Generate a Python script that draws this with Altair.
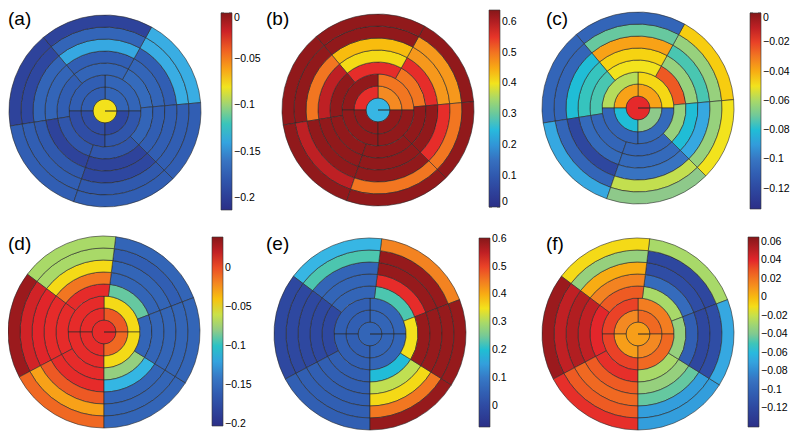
import math
import pandas as pd
import altair as alt

# ---------------- data ----------------
PANELS = ["(a)", "(b)", "(c)", "(d)", "(e)", "(f)"]

# colour-bar limits and tick labels
CBAR_MIN = [-0.213, 0.0, -0.134, -0.202, -0.077, -0.140]
CBAR_MAX = [0.0, 0.638, 0.0, 0.039, 0.603, 0.065]
TICKS_A = [0, -0.05, -0.1, -0.15, -0.2]
TICKS_B = [0, 0.1, 0.2, 0.3, 0.4, 0.5, 0.6]
TICKS_C = [0, -0.02, -0.04, -0.06, -0.08, -0.1, -0.12]
TICKS_D = [0, -0.05, -0.1, -0.15, -0.2]
TICKS_E = [0, 0.1, 0.2, 0.3, 0.4, 0.5, 0.6]
TICKS_F = [0.06, 0.04, 0.02, 0, -0.02, -0.04, -0.06, -0.08, -0.1, -0.12]

# apex value, apical rings (inner, outer) x quadrants (UR, UL, LL, LR),
# outer rings (inner -> outer) x six sectors (counter-clockwise from the right)
A_APEX = -0.079
A_APICAL = [[-0.170, -0.175, -0.187, -0.192],
            [-0.170, -0.175, -0.187, -0.181]]
A_OUTER = [[-0.166, -0.170, -0.175, -0.181, -0.181, -0.170],
           [-0.170, -0.175, -0.170, -0.196, -0.196, -0.175],
           [-0.175, -0.138, -0.170, -0.179, -0.192, -0.175],
           [-0.136, -0.170, -0.192, -0.175, -0.179, -0.175],
           [-0.136, -0.196, -0.196, -0.175, -0.175, -0.175]]

B_APEX = 0.242
B_APICAL = [[0.479, 0.555, 0.628, 0.628],
            [0.498, 0.628, 0.628, 0.628]]
B_OUTER = [[0.498, 0.555, 0.628, 0.628, 0.628, 0.628],
           [0.555, 0.408, 0.590, 0.628, 0.628, 0.628],
           [0.466, 0.434, 0.498, 0.628, 0.628, 0.555],
           [0.466, 0.628, 0.628, 0.590, 0.498, 0.498],
           [0.628, 0.628, 0.628, 0.628, 0.628, 0.628]]

C_APEX = -0.017
C_APICAL = [[-0.038, -0.038, -0.080, -0.067],
            [-0.048, -0.058, -0.107, -0.105]]
C_OUTER = [[-0.024, -0.050, -0.074, -0.107, -0.107, -0.064],
           [-0.064, -0.047, -0.076, -0.105, -0.105, -0.080],
           [-0.074, -0.038, -0.080, -0.121, -0.101, -0.087],
           [-0.064, -0.071, -0.107, -0.107, -0.056, -0.064],
           [-0.046, -0.107, -0.107, -0.087, -0.067, -0.050]]

D_APEX = 0.008
D_APICAL = [[-0.004, 0.008, 0.008, -0.009],
            [-0.048, 0.008, 0.008, -0.048]]
D_OUTER = [[-0.089, 0.008, 0.008, 0.008, -0.077, -0.154],
           [-0.154, -0.014, 0.008, 0.008, -0.110, -0.154],
           [-0.154, -0.048, 0.010, -0.004, -0.154, -0.154],
           [-0.159, -0.069, 0.015, -0.029, -0.154, -0.154],
           [-0.154, -0.069, 0.032, -0.009, -0.154, -0.154]]

E_APEX = 0.059
E_APICAL = [[0.059, 0.045, 0.045, 0.059],
            [0.059, 0.045, 0.045, 0.059]]
E_OUTER = [[0.229, 0.059, -0.009, 0.045, 0.195, 0.351],
           [0.515, 0.059, -0.009, 0.045, 0.317, 0.588],
           [0.588, 0.059, -0.009, 0.045, 0.358, 0.588],
           [0.588, 0.229, -0.009, 0.045, 0.453, 0.588],
           [0.440, 0.181, -0.009, 0.045, 0.588, 0.588]]

F_APEX = 0.008
F_APICAL = [[0.024, 0.014, 0.008, 0.014],
            [0.018, 0.034, 0.034, 0.024]]
F_OUTER = [[-0.027, 0.028, 0.040, 0.038, -0.027, -0.033],
           [-0.095, 0.016, 0.049, 0.028, -0.033, -0.103],
           [-0.115, 0.004, 0.053, 0.024, -0.044, -0.120],
           [-0.120, -0.033, 0.049, 0.028, -0.072, -0.115],
           [-0.027, -0.009, 0.059, 0.038, -0.072, -0.068]]

APEXES = [A_APEX, B_APEX, C_APEX, D_APEX, E_APEX, F_APEX]
APICALS = [A_APICAL, B_APICAL, C_APICAL, D_APICAL, E_APICAL, F_APICAL]
OUTERS = [A_OUTER, B_OUTER, C_OUTER, D_OUTER, E_OUTER, F_OUTER]
TICKS = [TICKS_A, TICKS_B, TICKS_C, TICKS_D, TICKS_E, TICKS_F]

# ---------------- geometry / layout (page pixels) ----------------
SECTOR_EDGES_TOP = [5, 61, 130, 189, 251, 315]      # degrees, ccw from 3 o'clock
SECTOR_EDGES_BOTTOM = [21, 83, 143, 208, 270, 328]
QUAD_EDGES = [0, 90, 180, 270]
R_OUT = 96.0
N_BANDS = 8
MARGIN = 8
BAR_W = 11
TICK_LEN = 3
CENTERS = [(105, 111), (378, 110), (638, 108), (104, 332), (370, 334), (638, 334)]
CBARS = [(221, 13, 197), (489, 10, 197), (750, 13, 196),
         (212, 237, 189), (479, 238, 189), (748, 237, 190)]
LABEL_XY = [(8, 25), (266, 25), (546, 25), (8, 250), (266, 250), (546, 250)]

STOPS = ["#2b2f87", "#2f4ea6", "#3874c2", "#3db4e6", "#8ec98a",
         "#f2e41e", "#f48a22", "#e5262b", "#861719"]


def arc_angles(p1, p2):
    start = math.radians((90 - p2) % 360)
    return start, start + math.radians(p2 - p1)


def spans(edges):
    return list(zip(edges, edges[1:] + [edges[0] + 360]))


unit = R_OUT / N_BANDS
layers = []
tick_layers = []
for k, name in enumerate(PANELS):
    rows = []
    # apex disk (with the seam toward 3 o'clock)
    rows.append(dict(t1=math.pi / 2 + 0.001, t2=math.pi / 2 + 2 * math.pi - 0.001,
                     r1=0.0, r2=unit, v=APEXES[k]))
    for i, ring in enumerate(APICALS[k]):
        for (p1, p2), val in zip(spans(QUAD_EDGES), ring):
            a, b = arc_angles(p1, p2)
            rows.append(dict(t1=a, t2=b, r1=(1 + i) * unit, r2=(2 + i) * unit, v=val))
    edges = SECTOR_EDGES_TOP if k < 3 else SECTOR_EDGES_BOTTOM
    for j, ring in enumerate(OUTERS[k]):
        for (p1, p2), val in zip(spans(edges), ring):
            a, b = arc_angles(p1, p2)
            rows.append(dict(t1=a, t2=b, r1=(3 + j) * unit, r2=(4 + j) * unit, v=val))
    df = pd.DataFrame(rows)
    lo, hi = CBAR_MIN[k], CBAR_MAX[k]
    dom = [lo + (hi - lo) * i / (len(STOPS) - 1) for i in range(len(STOPS))]
    lx, ly, ll = CBARS[k]
    cx, cy = CENTERS[k]
    layer = alt.Chart(df).mark_arc(stroke="#2a2a2a", strokeWidth=0.6).encode(
        theta=alt.Theta("t1:Q", scale=None),
        theta2=alt.Theta2("t2"),
        radius=alt.Radius("r2:Q", scale=None),
        radius2=alt.Radius2("r1"),
        x=alt.value(cx - MARGIN),
        y=alt.value(cy - MARGIN),
        color=alt.Color(
            "v:Q",
            scale=alt.Scale(domain=dom, range=STOPS, nice=False, clamp=True),
            legend=alt.Legend(
                orient="none", legendX=lx - MARGIN, legendY=ly - MARGIN,
                direction="vertical", gradientLength=ll, gradientThickness=BAR_W,
                values=TICKS[k], labelExpr="format(datum.value, '.2~f')",
                labelFontSize=10.5, labelFont="Liberation Sans",
                labelOffset=2, labelOverlap=False, title=None, padding=0,
                gradientStrokeColor="#333333", gradientStrokeWidth=0.6,
                labelColor="black", labelBaseline="middle", labelLimit=60,
            ),
        ),
    )
    layers.append(layer)

    # small tick marks on both edges of the colour bar
    tdf = pd.DataFrame({"tick": TICKS[k]})
    yscale = alt.Scale(domain=[lo, hi], range=[ly + ll - MARGIN, ly - MARGIN])
    for x0 in (lx - MARGIN, lx - MARGIN + BAR_W - TICK_LEN):
        tick_layers.append(
            alt.Chart(tdf).mark_rule(color="#333333", strokeWidth=0.8).encode(
                y=alt.Y("tick:Q", scale=yscale, axis=None),
                x=alt.value(x0),
                x2=alt.value(x0 + TICK_LEN),
            )
        )

labels_df = pd.DataFrame({
    "label": PANELS,
    "px": [p[0] - MARGIN for p in LABEL_XY],
    "py": [p[1] - MARGIN for p in LABEL_XY],
})
text = alt.Chart(labels_df).mark_text(
    font="Liberation Sans", fontSize=19, align="left", baseline="alphabetic", color="black"
).encode(
    x=alt.X("px:Q", scale=None),
    y=alt.Y("py:Q", scale=None),
    text="label:N",
)

chart = alt.layer(*layers, *tick_layers, text).resolve_scale(
    color="independent", y="independent"
).properties(
    width=784, height=424, padding=0, autosize=alt.AutoSizeParams(type="none")
).configure_view(stroke=None)

chart.save("out.html", embed_options={"renderer": "svg", "actions": False})
